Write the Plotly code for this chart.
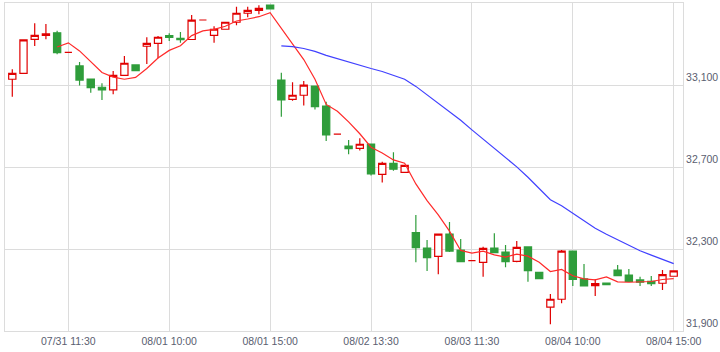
import plotly.graph_objects as go
import pandas as pd

opens = [33128, 33157, 33323, 33342, 33355, 33259, 33193, 33129, 33089, 33076,
         33147, 33198, 33289, 33303, 33341, 33328, 33322, 33417, 33342, 33372,
         33406, 33450, 33464, 33490, 33124, 33030, 33050, 33095, 32997, 32860,
         32802, 32791, 32812, 32664, 32718, 32674, 32380, 32305, 32264, 32373,
         32295, 32243, 32235, 32305, 32285, 32240, 32310, 32186, 32016, 32055,
         32290, 32154, 32121, 32134, 32197, 32173, 32149, 32142, 32133, 32167]
highs = [33177, 33322, 33401, 33398, 33365, 33259, 33212, 33131, 33108, 33168,
         33241, 33199, 33333, 33339, 33352, 33358, 33441, 33417, 33386, 33406,
         33482, 33482, 33489, 33492, 33160, 33113, 33120, 33096, 33018, 32860,
         32832, 32840, 32813, 32726, 32772, 32709, 32466, 32344, 32374, 32432,
         32349, 32243, 32311, 32377, 32320, 32339, 32311, 32187, 32080, 32295,
         32291, 32227, 32154, 32135, 32222, 32202, 32165, 32168, 32198, 32193]
lows = [33043, 33155, 33290, 33323, 33250, 33259, 33098, 33062, 33027, 33055,
        33146, 33169, 33202, 33230, 33315, 33306, 33320, 33417, 33306, 33371,
        33391, 33430, 33445, 33470, 32945, 33023, 33000, 32981, 32827, 32860,
        32762, 32781, 32659, 32625, 32682, 32673, 32235, 32193, 32177, 32285,
        32237, 32243, 32165, 32281, 32211, 32235, 32140, 32154, 31933, 32035,
        32119, 32119, 32071, 32125, 32169, 32142, 32119, 32119, 32100, 32166]
closes = [33157, 33320, 33342, 33349, 33258, 33259, 33124, 33087, 33076, 33147,
          33206, 33170, 33303, 33333, 33332, 33321, 33416, 33417, 33372, 33406,
          33450, 33464, 33474, 33471, 33027, 33050, 33099, 32994, 32857, 32860,
          32789, 32811, 32666, 32718, 32689, 32708, 32306, 32258, 32373, 32290,
          32238, 32243, 32303, 32282, 32238, 32308, 32194, 32155, 32055, 32290,
          32152, 32120, 32131, 32126, 32170, 32142, 32138, 32131, 32175, 32193]

tick_idx = [5, 14, 23, 32, 41, 50, 59]
tick_labels = ["07/31 11:30", "08/01 10:00", "08/01 15:00", "08/02 13:30",
               "08/03 11:30", "08/04 10:00", "08/04 15:00"]
y_ticks = [31900, 32300, 32700, 33100]
y_labels = ["31,900", "32,300", "32,700", "33,100"]

x = list(range(len(closes)))
s = pd.Series(closes, dtype=float)
ma_short = s.rolling(5).mean()
ma_long = s.rolling(25).mean()

RED = "#e00000"
GREEN = "#2f9d3b"
GRID = "#dcdcdc"
FONT = "Liberation Sans"

fig = go.Figure()
fig.add_trace(go.Candlestick(
    x=x, open=opens, high=highs, low=lows, close=closes,
    increasing=dict(line=dict(color=RED, width=1.2), fillcolor="white"),
    decreasing=dict(line=dict(color=GREEN, width=1.2), fillcolor=GREEN),
    whiskerwidth=0, showlegend=False, hoverinfo="skip",
))
fig.add_trace(go.Scatter(x=x, y=ma_short, mode="lines",
                         line=dict(color="#ff2a2a", width=1.2),
                         showlegend=False, hoverinfo="skip"))
fig.add_trace(go.Scatter(x=x, y=ma_long, mode="lines",
                         line=dict(color="#4040ff", width=1.2),
                         showlegend=False, hoverinfo="skip"))

fig.update_layout(
    width=720, height=352,
    margin=dict(l=5, r=37, t=3, b=21),
    paper_bgcolor="white", plot_bgcolor="white",
    boxgap=0.08,
    font=dict(family=FONT, size=11, color="#5a6070"),
    xaxis=dict(
        range=[-0.65, 59.83], rangeslider=dict(visible=False),
        tickmode="array", tickvals=tick_idx, ticktext=tick_labels,
        showgrid=True, gridcolor=GRID, gridwidth=1,
        showline=True, linecolor=GRID, mirror=True,
        ticks="", zeroline=False, tickfont=dict(size=10.5),
    ),
    yaxis=dict(
        range=[31900, 33500], side="right",
        tickmode="array", tickvals=y_ticks, ticktext=y_labels,
        showgrid=True, gridcolor=GRID, gridwidth=1,
        showline=True, linecolor=GRID, mirror=True,
        ticks="", zeroline=False, ticklabelposition="outside top",
        tickfont=dict(size=10.5),
    ),
)

fig.write_html("out.html")
